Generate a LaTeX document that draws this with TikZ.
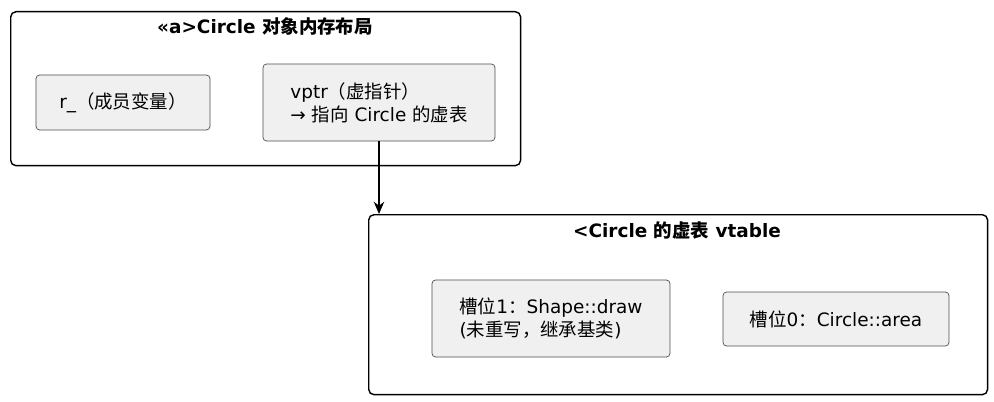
\documentclass[tikz,border=0pt]{standalone}
\usepackage{fontspec}
\setmainfont{DejaVu Sans}
\newfontfamily\cjk{Noto Sans CJK SC}
\usetikzlibrary{positioning, arrows.meta}
\tikzstyle{frame} = [rectangle, rounded corners=3pt, draw=black, line width=0.8pt, anchor=north west]
\tikzstyle{slot} = [rectangle, rounded corners=2pt, draw=black!70, fill=black!6, align=left, font=\fontsize{10.5}{13}\selectfont, inner sep=0pt]
\tikzstyle{title} = [font=\bfseries\fontsize{10.5}{13}\selectfont]
\tikzstyle{arrow} = [-{Stealth[length=7pt,width=6pt]}, line width=0.7pt]

\begin{document}
\begin{tikzpicture}[x=0.02cm,y=-0.02cm]
        \useasboundingbox (0,0) rectangle (994,402);
        % memory layout
        \node[frame, minimum width=10.2cm, minimum height=3.08cm] (obj) at (10,11) {};
        \node[title] (objt) at (265,26) {<<a>Circle {\cjk 对象内存布局}};
        \node[slot, minimum width=3.48cm, minimum height=1.1cm] (r) at (123,102.5) {r\_{\cjk （成员变量）}};
        \node[slot, minimum width=4.64cm, minimum height=1.54cm] (vptr) at (379,102.5) {vptr{\cjk （虚指针）}\\→ {\cjk 指向} Circle {\cjk 的虚表}};

        % vtable
        \node[frame, minimum width=12.38cm, minimum height=3.6cm] (vt) at (368,214) {};
        \node[title] (vtt) at (677,230) {<Circle {\cjk 的虚表} vtable};
        \node[slot, minimum width=4.76cm, minimum height=1.54cm] (s1) at (551,318.5) {{\cjk 槽位}1{\cjk ：}Shape::draw\\({\cjk 未重写，继承基类})};
        \node[slot, minimum width=4.52cm, minimum height=1.08cm] (s0) at (836,319) {{\cjk 槽位}0{\cjk ：}Circle::area};

        \draw[arrow] (vptr.south) -- (vptr.south |- vt.north);
\end{tikzpicture}
\end{document}
